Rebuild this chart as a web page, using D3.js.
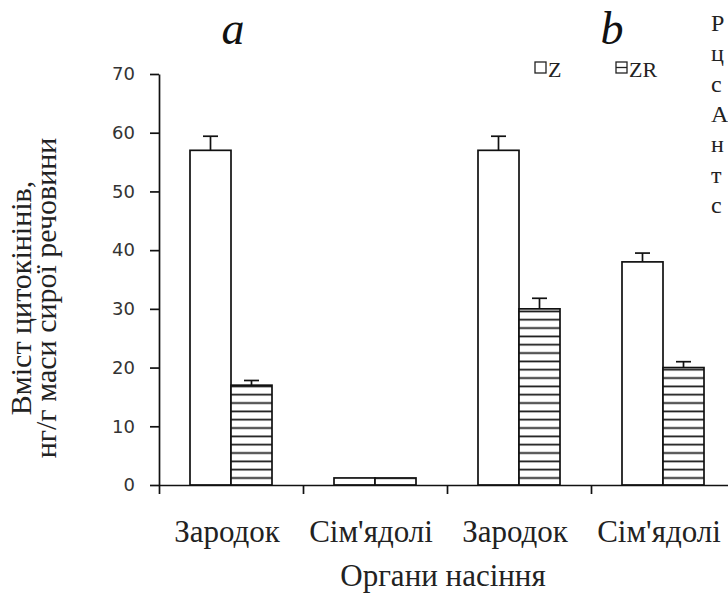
<!DOCTYPE html>
<html>
<head>
<meta charset="utf-8">
<script src="https://cdn.jsdelivr.net/npm/d3@7"></script>
<style>
  html, body { margin: 0; padding: 0; background: #fff; overflow: hidden; }
  svg { display: block; }
</style>
</head>
<body>
<script>
// Cytokinin content in seed organs: two experiments (a, b), two forms (Z, ZR)
const categories = ["Зародок", "Сім'ядолі", "Зародок", "Сім'ядолі"];
const panelLabels = ["a", "b"];
const seriesNames = ["Z", "ZR"];
const zValues  = [57, 1.2, 57, 38];
const zErrors  = [2.4, 0, 2.4, 1.5];
const zrValues = [17, 1.2, 30, 20];
const zrErrors = [0.8, 0, 1.8, 1.0];
const yTicks = [0, 10, 20, 30, 40, 50, 60, 70];
const yTitle = ["Вміст цитокінінів,", "нг/г маси сирої речовини"];
const xTitle = "Органи насіння";
const sideLetters = ["Р", "ц", "с", "А", "н", "т", "с"];

const W = 728, H = 594;
const serif = "'Liberation Serif', 'Times New Roman', serif";
const ink = "#111";

const svg = d3.select("body").append("svg")
  .attr("width", W).attr("height", H)
  .attr("viewBox", `0 0 ${W} ${H}`);

// plot frame
const plotLeft = 159, plotBase = 485, plotTop = 74, bandW = 144;
const plotRight = plotLeft + bandW * categories.length;

const x = d3.scaleBand()
  .domain(d3.range(categories.length))
  .range([plotLeft, plotRight])
  .padding(0);

const xs = d3.scaleBand()
  .domain(seriesNames)
  .range([0, bandW])
  .paddingInner(0)
  .paddingOuter(0.756);

const y = d3.scaleLinear().domain([0, 70]).range([plotBase, plotTop]);

// horizontal hatch for ZR
const hatchStep = 8.33;
const defs = svg.append("defs");
const pat = defs.append("pattern")
  .attr("id", "hatch")
  .attr("patternUnits", "userSpaceOnUse")
  .attr("x", 0)
  .attr("y", plotBase - 7 - hatchStep / 2)
  .attr("width", 20)
  .attr("height", hatchStep);
pat.append("rect").attr("width", 20).attr("height", hatchStep).attr("fill", "#fff");
pat.append("line")
  .attr("x1", 0).attr("x2", 20)
  .attr("y1", hatchStep / 2).attr("y2", hatchStep / 2)
  .attr("stroke", ink).attr("stroke-width", 1.7);

// rows of bars, one per series
const rows = [];
categories.forEach((c, i) => {
  rows.push({ i, s: "Z",  v: zValues[i],  e: zErrors[i] });
  rows.push({ i, s: "ZR", v: zrValues[i], e: zrErrors[i] });
});

svg.append("g")
  .selectAll("rect")
  .data(rows)
  .join("rect")
  .attr("x", d => x(d.i) + xs(d.s))
  .attr("y", d => y(d.v))
  .attr("width", xs.bandwidth())
  .attr("height", d => y(0) - y(d.v))
  .attr("fill", d => d.s === "Z" ? "#fff" : "url(#hatch)")
  .attr("stroke", ink)
  .attr("stroke-width", 1.7);

// error bars (upper whisker only)
const err = svg.append("g").attr("stroke", ink).attr("stroke-width", 1.7);
const withErr = rows.filter(d => d.e > 0);
const cx = d => x(d.i) + xs(d.s) + xs.bandwidth() / 2;
err.selectAll("line.v")
  .data(withErr)
  .join("line")
  .attr("class", "v")
  .attr("x1", cx).attr("x2", cx)
  .attr("y1", d => y(d.v))
  .attr("y2", d => y(d.v + d.e));
err.selectAll("line.c")
  .data(withErr)
  .join("line")
  .attr("class", "c")
  .attr("x1", d => cx(d) - 7.5)
  .attr("x2", d => cx(d) + 7.5)
  .attr("y1", d => y(d.v + d.e))
  .attr("y2", d => y(d.v + d.e));

// y axis
const yAxis = svg.append("g")
  .attr("transform", `translate(${plotLeft},0)`)
  .call(d3.axisLeft(y).tickValues(yTicks).tickSize(9).tickSizeOuter(0).tickPadding(15));
yAxis.select(".domain").attr("stroke", ink).attr("stroke-width", 1.7);
yAxis.selectAll(".tick line").attr("stroke", ink).attr("stroke-width", 1.7);
yAxis.selectAll(".tick text")
  .attr("font-family", "'DejaVu Sans', sans-serif")
  .attr("font-size", 18)
  .attr("fill", "#333");

// x axis: line with ticks on category boundaries
const xb = d3.scaleLinear().domain([0, categories.length]).range([plotLeft, plotRight]);
const xAxis = svg.append("g")
  .attr("transform", `translate(0,${plotBase})`)
  .call(d3.axisBottom(xb).tickValues(d3.range(categories.length + 1)).tickFormat("").tickSize(9).tickSizeOuter(0));
xAxis.select(".domain").attr("stroke", ink).attr("stroke-width", 1.7);
xAxis.selectAll(".tick line").attr("stroke", ink).attr("stroke-width", 1.7);

// category labels under band centres
const xLab = svg.append("g")
  .attr("transform", `translate(-4,${plotBase})`)
  .call(d3.axisBottom(x).tickSize(0).tickPadding(0).tickFormat(i => categories[i]));
xLab.select(".domain").remove();
xLab.selectAll(".tick text")
  .attr("y", 57).attr("dy", 0)
  .attr("font-family", serif)
  .attr("font-size", 31)
  .attr("fill", "#222");

// axis titles
svg.append("text")
  .attr("x", (plotLeft + plotRight) / 2 - 4)
  .attr("y", 586)
  .attr("text-anchor", "middle")
  .attr("font-family", serif)
  .attr("font-size", 31)
  .attr("fill", "#222")
  .text(xTitle);

svg.append("g")
  .selectAll("text")
  .data(yTitle)
  .join("text")
  .attr("transform", (d, i) => `translate(${31 + i * 25},${298}) rotate(-90)`)
  .attr("text-anchor", "middle")
  .attr("font-family", serif)
  .attr("font-size", 30)
  .attr("fill", "#222")
  .text(d => d);

// panel letters
const panelX = [x(0) + 74, x(3) + 21];
svg.append("g")
  .selectAll("text")
  .data(panelLabels)
  .join("text")
  .attr("x", (d, i) => panelX[i])
  .attr("y", 44)
  .attr("text-anchor", "middle")
  .attr("font-family", serif)
  .attr("font-style", "italic")
  .attr("font-size", 46)
  .attr("fill", ink)
  .text(d => d);

// legend
const lg = svg.append("g")
  .selectAll("g")
  .data(seriesNames)
  .join("g")
  .attr("transform", (d, i) => `translate(${535 + i * 81},${62})`);
lg.append("rect")
  .attr("width", 11).attr("height", 11)
  .attr("fill", "#fff")
  .attr("stroke", "#222").attr("stroke-width", 1.3);
lg.filter(d => d === "ZR").append("line")
  .attr("x1", 0).attr("x2", 11).attr("y1", 5.5).attr("y2", 5.5)
  .attr("stroke", "#222").attr("stroke-width", 1.3);
lg.append("text")
  .attr("x", 13)
  .attr("y", 15)
  .attr("font-family", serif)
  .attr("font-size", 22)
  .attr("fill", "#222")
  .text(d => d);

// neighbouring page text at the right margin
svg.append("g")
  .selectAll("text")
  .data(sideLetters)
  .join("text")
  .attr("x", 711)
  .attr("y", (d, i) => 31 + i * 30.3)
  .attr("font-family", serif)
  .attr("font-size", 24)
  .attr("fill", "#222")
  .text(d => d);
</script>
</body>
</html>
